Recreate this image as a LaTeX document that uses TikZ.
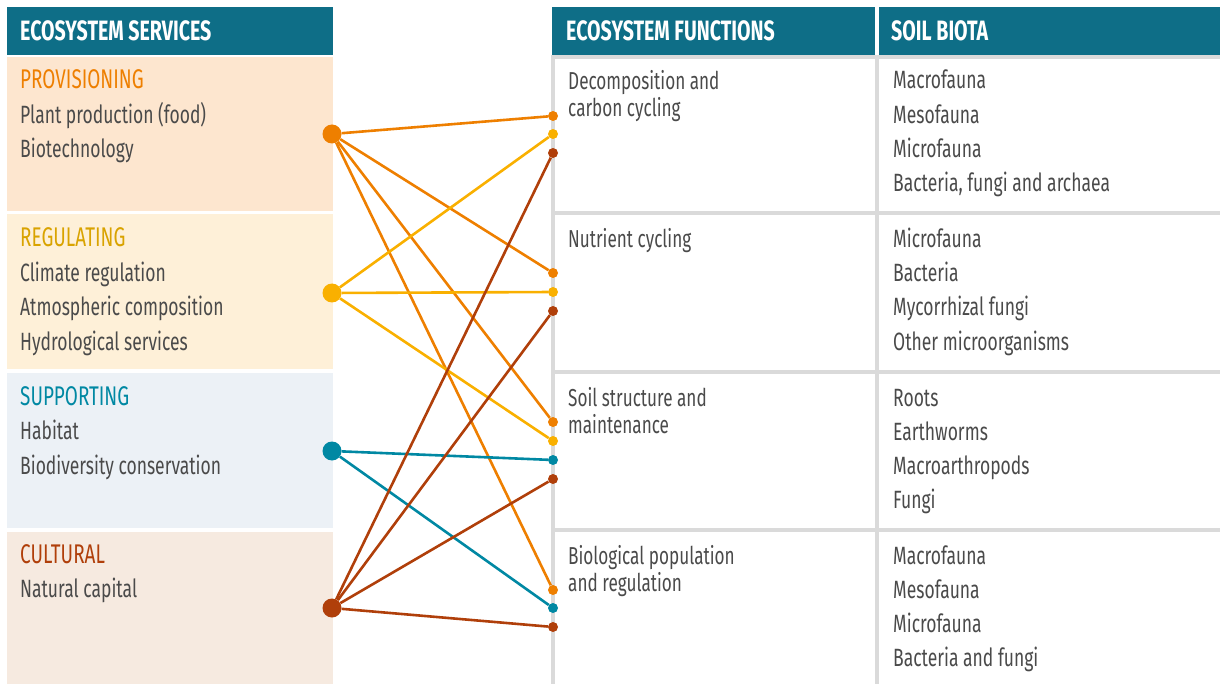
\documentclass[tikz,border=0pt]{standalone}
\usepackage{fontspec}
\setmainfont{Fira Sans}[FakeStretch=0.7]
\usetikzlibrary{%
    backgrounds,
    calc,
    positioning
}

\definecolor{hdrteal}{HTML}{0E6E87}
\definecolor{provorange}{HTML}{EE7F00}
\definecolor{regyellow}{HTML}{F9B000}
\definecolor{regtitle}{HTML}{D9A300}
\definecolor{suppteal}{HTML}{0088A3}
\definecolor{cultbrown}{HTML}{B03F0A}
\definecolor{provbg}{HTML}{FDE6CF}
\definecolor{regbg}{HTML}{FEF0D8}
\definecolor{suppbg}{HTML}{ECF1F6}
\definecolor{cultbg}{HTML}{F6EAE0}
\definecolor{cellgrey}{HTML}{DADADA}
\definecolor{itemgrey}{HTML}{4A4A4A}

\tikzset{
    hdr/.style={fill=hdrteal, draw=none},
    hdrtext/.style={anchor=base west, inner sep=0pt, text=white,
                    font=\fontsize{28}{28}\selectfont\bfseries},
    cattitle/.style={anchor=base west, inner sep=0pt,
                     font=\fontsize{27}{27}\selectfont},
    item/.style={anchor=base west, inner sep=0pt, text=itemgrey,
                 font=\fontsize{25}{25}\selectfont},
    func/.style={anchor=north west, inner sep=0pt, text=itemgrey, align=left,
                 font=\fontsize{24.5}{27}\selectfont},
    bigdot/.style={circle, minimum size=19pt, inner sep=0pt},
    smalldot/.style={circle, minimum size=10pt, inner sep=0pt},
    link/.style={line width=2.6pt},
    cellline/.style={draw=cellgrey, line width=3.5pt}
}

\begin{document}
\begin{tikzpicture}[x=1pt, y=-1pt]
    \useasboundingbox (0,0) rectangle (1220,684);

    % left column: service boxes
    \fill[hdr] (7,7) rectangle (333,55);
    \fill[provbg] (7,57) rectangle (333,211);
    \fill[regbg]  (7,214) rectangle (333,369);
    \fill[suppbg] (7,373) rectangle (333,528);
    \fill[cultbg] (7,532) rectangle (333,684);
    \node[hdrtext] (sshdr) at (20,41) {ECOSYSTEM SERVICES};

    \node[cattitle, text=provorange] (provtitle) at (20,89) {PROVISIONING};
    \node[item] (prov1) at (20,124) {Plant production (food)};
    \node[item] (prov2) at (20,158) {Biotechnology};

    \node[cattitle, text=regtitle] (regtitle) at (20,247) {REGULATING};
    \node[item] (reg1) at (20,282) {Climate regulation};
    \node[item] (reg2) at (20,316) {Atmospheric composition};
    \node[item] (reg3) at (20,350) {Hydrological services};

    \node[cattitle, text=suppteal] (supptitle) at (20,405) {SUPPORTING};
    \node[item] (supp1) at (20,439) {Habitat};
    \node[item] (supp2) at (20,474) {Biodiversity conservation};

    \node[cattitle, text=cultbrown] (culttitle) at (20,563) {CULTURAL};
    \node[item] (cult1) at (20,597) {Natural capital};

    % right table
    \fill[hdr] (552,7) rectangle (875,55);
    \fill[hdr] (879,7) rectangle (1220,55);
    \node[hdrtext] (efhdr) at (566,41) {ECOSYSTEM FUNCTIONS};
    \node[hdrtext] (sbhdr) at (891,41) {SOIL BIOTA};

    \foreach \Y in {57,213,372,530}
        \draw[cellline] (553,\Y) -- (1220,\Y);
    \foreach \X in {553,877}
        \draw[cellline] (\X,55) -- (\X,684);

    \node[func] (fun1) at (568,70) {Decomposition and\\carbon cycling};
    \node[func] (fun2) at (568,228) {Nutrient cycling};
    \node[func] (fun3) at (568,387) {Soil structure and\\maintenance};
    \node[func] (fun4) at (568,545) {Biological population\\and regulation};

    \foreach \Name/\Y/\Text in {%
        bioa/89/Macrofauna,
        biob/124/Mesofauna,
        bioc/158/Microfauna,
        biod/192/{Bacteria, fungi and archaea},
        bioe/248/Microfauna,
        biof/282/Bacteria,
        biog/316/Mycorrhizal fungi,
        bioh/350/Other microorganisms,
        bioi/406/Roots,
        bioj/440/Earthworms,
        biok/474/Macroarthropods,
        biol/508/Fungi,
        biom/564/Macrofauna,
        bion/598/Mesofauna,
        bioo/632/Microfauna,
        biop/666/Bacteria and fungi%
        }
        \node[item] (\Name) at (893,\Y) {\Text};

    % end points on the function column
    \foreach \Name/\Y/\Col in {%
        fao/116/provorange, fay/134/regyellow, fab/153/cultbrown,
        fbo/273/provorange, fby/292/regyellow, fbb/311/cultbrown,
        fco/422/provorange, fcy/441/regyellow, fct/460/suppteal, fcb/479/cultbrown,
        fdo/590/provorange, fdt/608/suppteal, fdb/627/cultbrown%
        }
        \node[smalldot, fill=\Col] (\Name) at (553,\Y) {};

    % service dots
    \node[bigdot, fill=provorange] (prov) at (332,134) {};
    \node[bigdot, fill=regyellow]  (reg)  at (332,293) {};
    \node[bigdot, fill=suppteal]   (supp) at (332,451) {};
    \node[bigdot, fill=cultbrown]  (cult) at (332,608) {};

    \foreach \Source/\Target/\Col in {%
        prov/fao/provorange,
        prov/fbo/provorange,
        prov/fco/provorange,
        prov/fdo/provorange,
        reg/fay/regyellow,
        reg/fby/regyellow,
        reg/fcy/regyellow,
        supp/fct/suppteal,
        supp/fdt/suppteal,
        cult/fab/cultbrown,
        cult/fbb/cultbrown,
        cult/fcb/cultbrown,
        cult/fdb/cultbrown%
        }
        \draw[link, draw=\Col] (\Source) -- (\Target);
\end{tikzpicture}
\end{document}
